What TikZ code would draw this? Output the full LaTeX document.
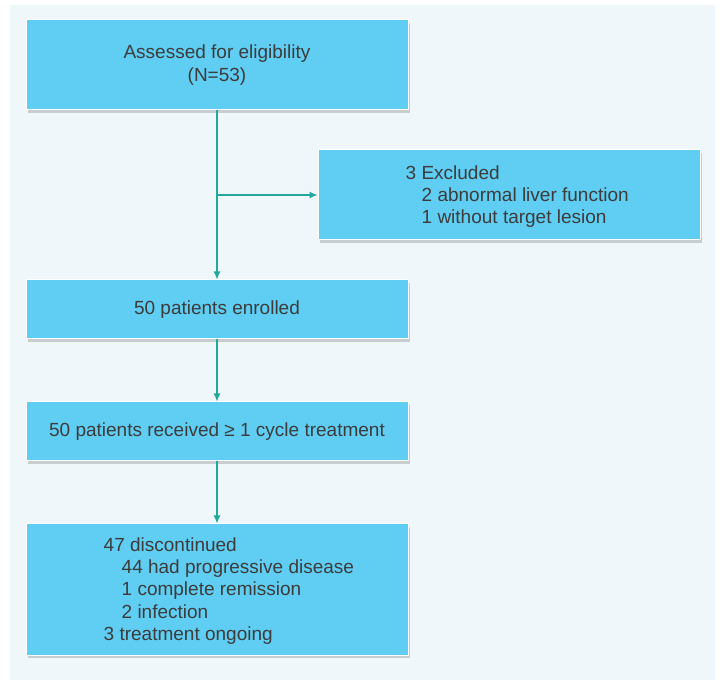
\documentclass[tikz,border=0pt]{standalone}
\usepackage{fontspec}
\setmainfont{Liberation Sans}
\usetikzlibrary{arrows.meta,shadows}

\definecolor{hintergrund}{HTML}{F0F7FB}
\definecolor{kasten}{HTML}{60CDF2}
\definecolor{pfeil}{HTML}{22A89C}
\definecolor{schrift}{HTML}{3C3C3C}

\tikzset{
	kasten/.style={draw=white, line width=1pt, fill=kasten, inner sep=0pt,
		minimum width=382pt, text=schrift,
		font=\fontsize{19}{22.3}\selectfont,
		drop shadow={shadow xshift=2pt, shadow yshift=-3pt, opacity=0.35, fill=gray}},
	liste/.style={text=schrift, inner sep=0pt, align=left, anchor=west,
		font=\fontsize{19}{22.3}\selectfont},
	pfeil/.style={-{Latex[length=8pt,width=7pt]}, line width=1.2pt, draw=pfeil}
}

\begin{document}
\begin{tikzpicture}[x=1pt, y=-1pt]
		% zeichne Hintergrund
		\useasboundingbox (0,0) rectangle (721,684);
		\fill[white] (0,0) rectangle (721,684);
		\fill[hintergrund] (10,5) rectangle (715,680);
		
		% zeichne Kaesten
		\node[kasten, minimum height=90pt, align=center] (assess) at (217,65) {Assessed for eligibility\\(N=53)};
		\node[kasten, minimum height=90pt] (excl) at (509,195) {};
		\node[kasten, minimum height=59pt] (enrol) at (217,309.5) {50 patients enrolled};
		\node[kasten, minimum height=59pt] (recv) at (217,431.5) {50 patients received ≥ 1 cycle treatment};
		\node[kasten, minimum height=131pt] (disc) at (217,589.5) {};
		
		% zeichne Listen
		\node[liste] (excltext) at ([xshift=88pt, yshift=-1.5pt]excl.west) {3 Excluded\\\hspace*{16pt}2 abnormal liver function\\\hspace*{16pt}1 without target lesion};
		\node[liste] (disctext) at ([xshift=78pt, yshift=-1.5pt]disc.west) {47 discontinued\\\hspace*{18pt}44 had progressive disease\\\hspace*{18pt}1 complete remission\\\hspace*{18pt}2 infection\\3 treatment ongoing};
		
		% zeichne Pfeile
		\draw[pfeil] (assess) -- (enrol);
		\draw[pfeil] (assess.south |- excl.west) -- (excl.west);
		\draw[pfeil] (enrol) -- (recv);
		\draw[pfeil] (recv) -- (disc);
	\end{tikzpicture}
\end{document}
